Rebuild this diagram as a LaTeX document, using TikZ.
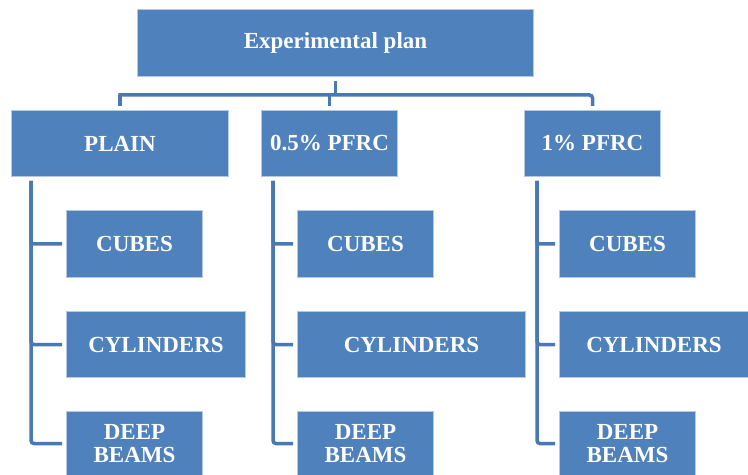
\documentclass[tikz,border=0pt]{standalone}
\usepackage{fontspec}
\setmainfont{Liberation Serif}
\usepackage{tikz}
\usetikzlibrary{calc,positioning}
\definecolor{planblue}{HTML}{4F81BD}
\definecolor{planedge}{HTML}{B4C8E2}
\definecolor{planlink}{HTML}{4A78B2}

\begin{document}
\begin{tikzpicture}[x=0.5pt,y=-0.5pt,
    planbox/.style={draw=planedge,line width=0.5pt,fill=planblue,text=white,anchor=north west,
      inner sep=0pt,align=center,font=\fontsize{11.5}{11.5}\selectfont\bfseries},
    link/.style={planlink,line width=1.75pt,rounded corners=1.5pt}]
    \useasboundingbox (0,0) rectangle (748,475);
    \node[planbox,minimum width=198pt,minimum height=33.5pt] (plan) at (137,9) {Experimental plan};
    \node[planbox,minimum width=108.5pt,minimum height=33pt] (plain) at (11,110) {PLAIN};
    \node[planbox,minimum width=68pt,minimum height=33pt] (pfrchalf) at (261,110) {0.5\% PFRC};
    \node[planbox,minimum width=68pt,minimum height=33pt] (pfrcone) at (524,110) {1\% PFRC};
    % plain specimens
    \node[planbox,minimum width=68pt,minimum height=33.5pt] (cubesa) at (66,210) {CUBES};
    \node[planbox,minimum width=89.5pt,minimum height=33pt] (cylsa) at (66,311) {CYLINDERS};
    \node[planbox,minimum width=68pt,minimum height=32pt] (beamsa) at (66,411) {DEEP\\BEAMS};
    % 0.5% specimens
    \node[planbox,minimum width=68pt,minimum height=33.5pt] (cubesb) at (297,210) {CUBES};
    \node[planbox,minimum width=114pt,minimum height=33pt] (cylsb) at (297,311) {CYLINDERS};
    \node[planbox,minimum width=68pt,minimum height=32pt] (beamsb) at (297,411) {DEEP\\BEAMS};
    % 1% specimens
    \node[planbox,minimum width=68pt,minimum height=33.5pt] (cubesc) at (559,210) {CUBES};
    \node[planbox,minimum width=94.5pt,minimum height=33pt] (cylsc) at (559,311) {CYLINDERS};
    \node[planbox,minimum width=68pt,minimum height=32pt] (beamsc) at (559,411) {DEEP\\BEAMS};
    % top level links
    \coordinate (bus) at (0,95);
    \draw[link] ([yshift=-2pt]plan.south) -- (plan.south |- bus);
    \draw[link,shorten <=-0.85pt,shorten >=2pt] (plain.north |- bus) -- (pfrcone.north |- bus) -- (pfrcone.north);
    \draw[link,shorten >=2pt] (plain.north |- bus) -- (plain.north);
    \draw[link,shorten >=2pt] (pfrchalf.north |- bus) -- (pfrchalf.north);
    % specimen links
    \foreach \parent/\dx/\kid in {plain/10pt/a,pfrchalf/6pt/b,pfrcone/6.5pt/c} {
      \draw[link,shorten >=2pt] ([xshift=\dx,yshift=-2pt]\parent.south west) |- (cubes\kid.west);
      \draw[link,shorten >=2pt] ([xshift=\dx,yshift=-2pt]\parent.south west) |- (cyls\kid.west);
      \draw[link,shorten >=2pt] ([xshift=\dx,yshift=-2pt]\parent.south west) |- (beams\kid.west);
    }
  \end{tikzpicture}
\end{document}
